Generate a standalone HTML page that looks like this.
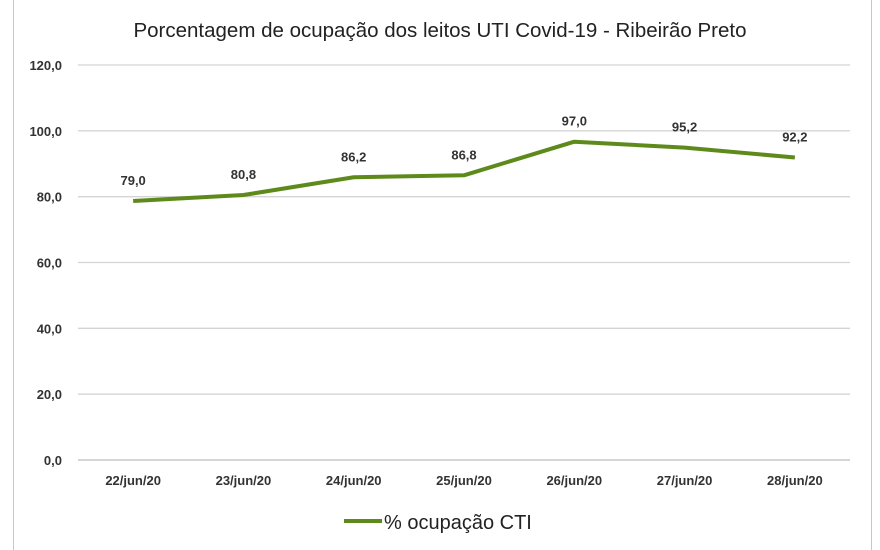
<!DOCTYPE html>
<html><head><meta charset="utf-8"><style>
body{margin:0;background:#fff;}
svg{display:block;font-family:"Liberation Sans",sans-serif;}
</style></head><body>
<svg id="chart" width="880" height="550">
<rect x="13.5" y="-1" width="858" height="560" fill="#fff" stroke="#c8c8c8"/>
<text x="440" y="37" text-anchor="middle" font-size="20.5" fill="#222">Porcentagem de ocupação dos leitos UTI Covid-19 - Ribeirão Preto</text>
<g id="grid"></g><g id="ylabels"></g><g id="xlabels"></g><g id="series"></g>
<g>
<line x1="344" y1="521" x2="382" y2="521" stroke="#5e8a1c" stroke-width="4"/>
<text x="384" y="529" font-size="20" fill="#222">% ocupação CTI</text>
</g>
</svg>
<script>
const categories=["22/jun/20","23/jun/20","24/jun/20","25/jun/20","26/jun/20","27/jun/20","28/jun/20"];
const values=[79.0,80.8,86.2,86.8,97.0,95.2,92.2];
const yTicks=[0,20,40,60,80,100,120];
const NS="http://www.w3.org/2000/svg";
const x0=78,x1=850,yBase=460,yTop=65,yMax=120;
const xs=i=>x0+(x1-x0)/categories.length*(i+0.5);
const ys=v=>yBase-(yBase-yTop)*v/yMax;
const fmt=v=>v.toFixed(1).replace('.',',');
function mk(t,a,p){const e=document.createElementNS(NS,t);for(const k in a)e.setAttribute(k,a[k]);p.appendChild(e);return e;}
const grid=document.getElementById('grid'),yl=document.getElementById('ylabels'),xl=document.getElementById('xlabels'),se=document.getElementById('series');
yTicks.forEach(t=>{
 const l=mk('line',{x1:x0,x2:x1,y1:ys(t),y2:ys(t),stroke:t===0?'#bdbdbd':'#d4d4d4','stroke-width':1.3},grid);
 
 
 const tx=mk('text',{x:62,y:ys(t)+5,'text-anchor':'end','font-size':13,'font-weight':'bold',fill:'#333'},yl);
 tx.textContent=fmt(t);
 
 
});
categories.forEach((c,i)=>{
 const tx=mk('text',{x:xs(i),y:485,'text-anchor':'middle','font-size':13,'font-weight':'bold',fill:'#333'},xl);
 tx.textContent=c;
 
 
});
const pl=mk('polyline',{points:values.map((v,i)=>xs(i)+','+(ys(v)+1)).join(' '),fill:'none',stroke:'#5e8a1c','stroke-width':4,'stroke-linejoin':'round'},se);


values.forEach((v,i)=>{
 const tx=mk('text',{x:xs(i),y:ys(v)-15,'text-anchor':'middle','font-size':13,'font-weight':'bold',fill:'#333'},se);
 tx.textContent=fmt(v);
 
 
});
</script>
</body></html>
